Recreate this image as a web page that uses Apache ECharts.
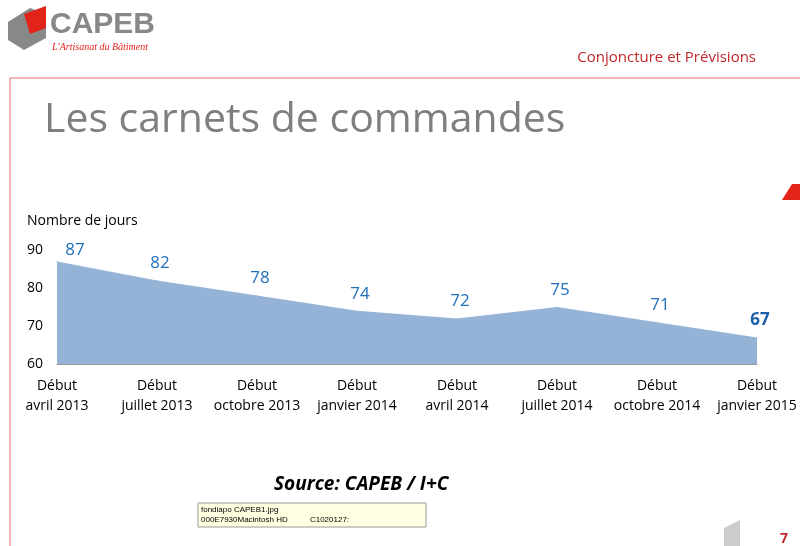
<!DOCTYPE html>
<html><head><meta charset="utf-8">
<script src="https://cdn.jsdelivr.net/npm/echarts@6/dist/echarts.min.js"></script>
<style>body{margin:0;background:#fff}#c{width:800px;height:546px}</style>
</head><body><div id="c"></div>
<script>
var periods = ['Début\navril 2013', 'Début\njuillet 2013', 'Début\noctobre 2013', 'Début\njanvier 2014',
  'Début\navril 2014', 'Début\njuillet 2014', 'Début\noctobre 2014', 'Début\njanvier 2015'];
var jours = [87, 82, 78, 74, 72, 75, 71, 67];

var chart = echarts.init(document.getElementById('c'));
var font = 'Open Sans, DejaVu Sans, sans-serif';
chart.setOption({
  animation: false,
  grid: {left: 57, right: 43, top: 250, height: 114},
  xAxis: {
    type: 'category', data: periods, boundaryGap: false,
    axisLine: {lineStyle: {color: '#999'}}, axisTick: {show: false},
    axisLabel: {color: '#000', fontSize: 14, fontFamily: font, lineHeight: 20, margin: 12, interval: 0}
  },
  yAxis: {
    type: 'value', min: 60, max: 90, interval: 10,
    name: 'Nombre de jours', nameLocation: 'end', nameGap: 22,
    nameTextStyle: {color: '#000', fontSize: 14, fontFamily: font, align: 'left', padding: [0, 0, 0, -30]},
    axisLine: {show: false}, axisTick: {show: false}, splitLine: {show: false},
    axisLabel: {color: '#000', fontSize: 14, fontFamily: font, margin: 14}
  },
  series: [{
    type: 'line', symbol: 'circle', symbolSize: 1, showSymbol: true,
    data: jours.map(function (v, i) {
      return i === 0 ? {value: v, label: {offset: [18, 6]}} : v;
    }),
    itemStyle: {color: '#95b3d7'},
    lineStyle: {width: 0}, areaStyle: {color: '#95b3d7', opacity: 1},
    label: {
      show: true, position: 'top', distance: 8, offset: [3, 0], color: '#1f6fbd', fontSize: 17, fontFamily: font,
      formatter: function (p) { return p.dataIndex === jours.length - 1 ? '{b|' + p.value + '}' : '' + p.value; },
      rich: {b: {fontWeight: 'bold', color: '#1f5fa8', fontSize: 17, fontFamily: font}}
    }
  }],
  graphic: [
    {type: 'polygon', shape: {points: [[8, 22], [30, 8], [46, 14], [46, 38], [24, 50], [8, 40]]}, style: {fill: '#888'}},
    {type: 'polygon', shape: {points: [[24, 14], [46, 6], [46, 28], [30, 34]]}, style: {fill: '#e2231a'}},
    {type: 'text', left: 50, top: 10, style: {text: 'CAPEB', fill: '#888', font: 'bold 30px Arial, sans-serif'}},
    {type: 'text', left: 52, top: 42, style: {text: "L'Artisanat du Bâtiment", fill: '#e2231a', font: 'italic 10px serif'}},
    {type: 'text', right: 44, top: 50, style: {text: 'Conjoncture et Prévisions', fill: '#c0282a', font: '15px ' + font}},
    {type: 'line', shape: {x1: 10, y1: 78, x2: 800, y2: 78}, style: {stroke: '#e07070', lineWidth: 1}},
    {type: 'line', shape: {x1: 10, y1: 78, x2: 10, y2: 546}, style: {stroke: '#e07070', lineWidth: 1}},
    {type: 'text', left: 44, top: 100, style: {text: 'Les carnets de commandes', fill: '#7f7f7f', font: '41px ' + font}},
    {type: 'polygon', shape: {points: [[782, 200], [792, 184], [800, 184], [800, 200]]}, style: {fill: '#e2231a'}},
    {type: 'text', left: 274, top: 475, style: {text: 'Source: CAPEB / I+C', fill: '#000', font: 'italic bold 19px ' + font}},
    {type: 'rect', shape: {x: 198, y: 503, width: 228, height: 24}, style: {fill: '#ffffe1', stroke: '#999'}},
    {type: 'text', left: 201, top: 505, style: {text: 'fondiapo CAPEB1.jpg\n000E7930Macintosh HD          C1020127:', fill: '#000', font: '8px Arial, sans-serif', lineHeight: 10}},
    {type: 'polygon', shape: {points: [[724, 528], [740, 520], [740, 546], [724, 546]]}, style: {fill: '#ccc'}},
    {type: 'text', left: 780, top: 532, style: {text: '7', fill: '#c0282a', font: 'bold 14px ' + font}}
  ]
});
</script></body></html>
